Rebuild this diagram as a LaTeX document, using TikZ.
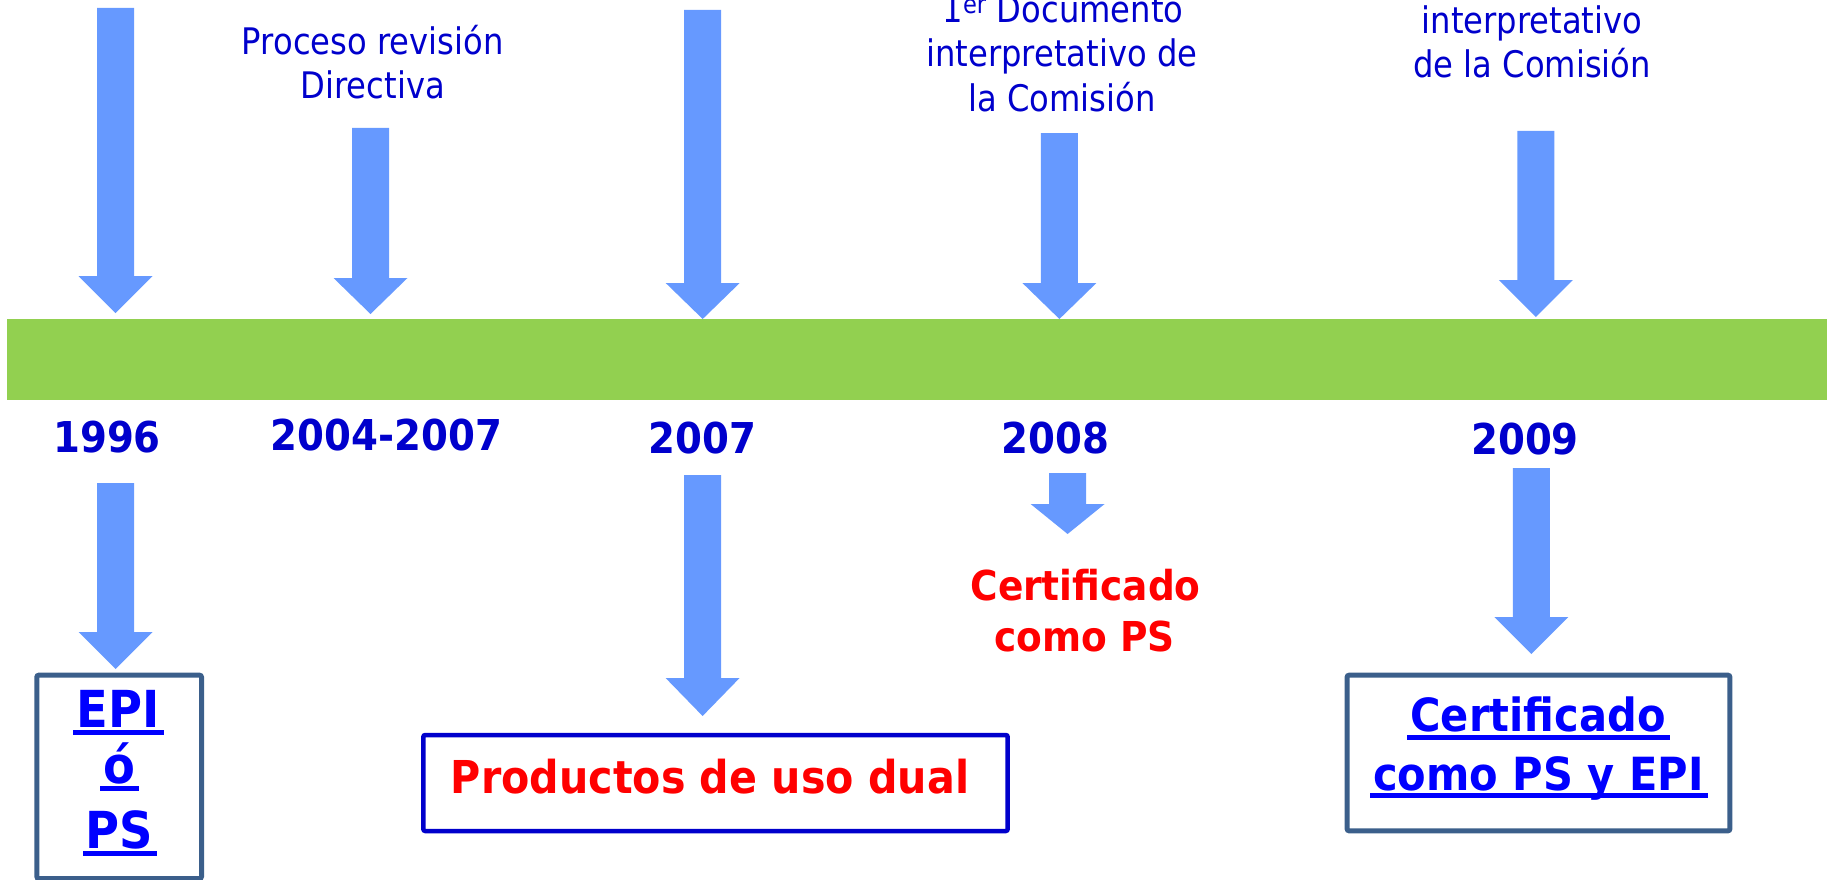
\documentclass[tikz,border=0pt]{standalone}
\usepackage{fontspec}
\newfontfamily\regf[FakeStretch=0.88]{DejaVu Sans}
\newfontfamily\boldf[FakeStretch=0.91]{DejaVu Sans}
\definecolor{arrowblue}{HTML}{6699FF}
\definecolor{bargreen}{HTML}{92D050}
\definecolor{navy}{HTML}{0000CC}
\definecolor{linkblue}{HTML}{0000FF}
\definecolor{steel}{HTML}{3B5F8B}
\definecolor{redtxt}{HTML}{FF0000}
\newcommand\darrow[4]{%
  \fill[arrowblue] (#1-18.5,#2) -- (#1+18.5,#2) -- (#1+18.5,#3) -- (#1+37,#3)
    -- (#1,#4) -- (#1-37,#3) -- (#1-18.5,#3) -- cycle;}
\newcommand\ulin[1]{%
  \fill[linkblue] ([xshift=-3pt,yshift=-3pt]#1.base west) rectangle ([xshift=4pt,yshift=-8pt]#1.base east);}
\tikzset{
  reg/.style={font=\regf\fontsize{36.6}{44}\selectfont, text=navy, inner sep=0pt, anchor=base},
  year/.style={font=\boldf\bfseries\fontsize{42.5}{50}\selectfont, text=navy, inner sep=0pt, anchor=base},
  redt/.style={font=\boldf\bfseries\fontsize{41.2}{50}\selectfont, text=redtxt, inner sep=0pt, anchor=base},
  prod/.style={font=\boldf\bfseries\fontsize{45.3}{54}\selectfont, text=redtxt, inner sep=0pt, anchor=base},
  epi/.style={font=\boldf\bfseries\fontsize{51}{60}\selectfont, text=linkblue, inner sep=0pt, anchor=base},
  cert/.style={font=\boldf\bfseries\fontsize{45.7}{54}\selectfont, text=linkblue, inner sep=0pt, anchor=base},
  steelbox/.style={draw=steel, line width=5pt, rounded corners=2pt},
  navybox/.style={draw=navy, line width=4.5pt, rounded corners=2pt},
}
\begin{document}
\begin{tikzpicture}[x=1pt,y=-1pt]
\useasboundingbox (0,0) rectangle (1827,880);
\clip (0,0) rectangle (1827,880);
% timeline bar
\fill[bargreen] (7,319) rectangle (1827,400);
% top arrows
\darrow{115.5}{8}{276}{313}
\darrow{370.5}{128}{278}{314}
\darrow{702.7}{10}{283}{319}
\darrow{1059.4}{133}{283}{319}
\darrow{1535.8}{131}{280}{317}
% lower arrows
\darrow{115.7}{483}{632}{669}
\darrow{702.6}{475}{678}{716}
\darrow{1067.6}{473}{504}{534}
\darrow{1531.3}{468}{617}{654}
% top texts
\node[reg] (t1a) at (372.7,55) {Proceso revisión};
\node[reg] (t1b) at (372.7,99) {Directiva};
\node[reg] (t2a) at (1063,23) {1\textsuperscript{er} Documento};
\node[reg] (t2b) at (1062,66.7) {interpretativo de};
\node[reg] (t2c) at (1062,111.7) {la Comisión};
\node[reg] (t3a) at (1532,33.3) {interpretativo};
\node[reg] (t3b) at (1532,77.7) {de la Comisión};
% years
\node[year] (y1) at (107,452.3) {1996};
\node[year] (y2) at (386.6,450) {2004-2007};
\node[year] (y3) at (702.4,453.3) {2007};
\node[year] (y4) at (1055.4,453) {2008};
\node[year] (y5) at (1525,454) {2009};
% boxes
\draw[steelbox] (36.8,675.2) rectangle (201.5,878.5);
\draw[navybox] (423.3,735) rectangle (1007.7,831);
\draw[steelbox] (1347.1,675.2) rectangle (1729.9,830.8);
% lower texts
\node[epi] (e1) at (118,727.3) {EPI};
\node[epi] (e2) at (119,783) {ó};
\node[epi] (e3) at (119.5,848.3) {PS};
\ulin{e1}\ulin{e2}\ulin{e3}
\node[prod] (p1) at (710,793.3) {Productos de uso dual};
\node[redt] (c1) at (1085.6,600) {Certificado};
\node[redt] (c2) at (1084.7,651.7) {como PS};
\node[cert] (d1) at (1538,731.7) {Certificado};
\node[cert] (d2) at (1538.5,790) {como PS y EPI};
\ulin{d1}\ulin{d2}
\end{tikzpicture}
\end{document}
